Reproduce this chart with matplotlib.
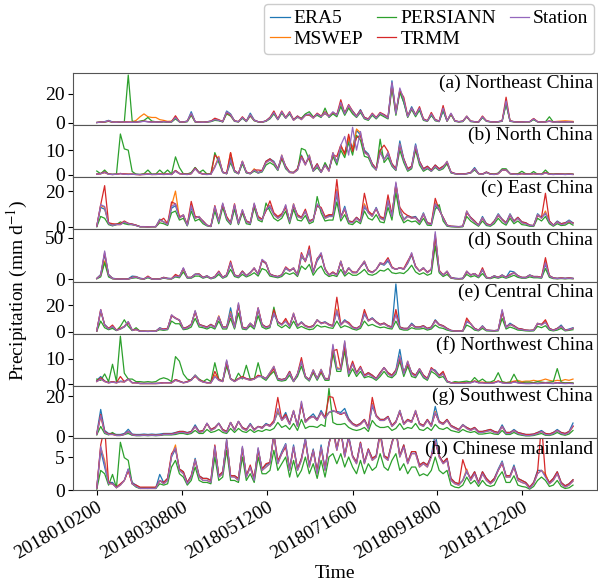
import numpy as np
import pandas as pd
import matplotlib
matplotlib.use("Agg")
import matplotlib.pyplot as plt
import matplotlib.dates as mdates

# Regional mean daily precipitation (mm/d), sampled every third day of 2018
start_date = "2018-01-02"
n_steps = 122
step_days = 3

products = ["ERA5", "MSWEP", "PERSIANN", "TRMM", "Station"]
colors = ["#1f77b4", "#ff7f0e", "#2ca02c", "#d62728", "#9467bd"]
titles = ["(a) Northeast China", "(b) North China", "(c) East China", "(d) South China",
          "(e) Central China", "(f) Northwest China", "(g) Southwest China", "(h) Chinese mainland"]
tick_dates = ["2018-01-02", "2018-03-08", "2018-05-12", "2018-07-16", "2018-09-18", "2018-11-22"]
ytick_sets = [[0, 20], [0, 10], [0, 20], [0, 50], [0, 20], [0, 10], [0, 20], [0, 5]]

# (a) Northeast China
ne_era5 = [0, 0.4, 0.6, 1.5, 0.4, 0.3, 0.6, 0.4, 0.3, 0.2, 0.4, 0.6, 0.9, 0.6, 0.4, 0.5, 0.3, 0.7, 0.4, 0.6,
           3, 0.6, 0.4, 1, 7.5, 0.6, 0.4, 0.3, 0.5, 1, 1.8, 1.5, 0.6, 8, 6, 1.2, 0.6, 3, 1, 6.5,
           1.8, 0.6, 0.4, 1.2, 3.5, 6.5, 2.5, 7, 3.5, 6, 2, 4.5, 2.5, 5.5, 5, 3.5, 5.5, 4.5, 6, 4.5,
           6.5, 5.5, 12, 7, 11, 8, 4.5, 9, 3.5, 2.5, 5.5, 3.5, 6, 5.5, 3.5, 29, 6.5, 22, 14, 4.5,
           11, 5.5, 9, 2.5, 1.2, 5, 2, 1, 8, 1.2, 6, 1.2, 0.6, 1, 4, 1, 0.6, 0.4, 3.5, 1.2,
           0.6, 0.4, 0.6, 1.2, 13, 1.2, 0.6, 0.4, 0.4, 0.6, 0.6, 2.2, 0.6, 0.4, 0.5, 1, 0.4, 0.6, 0.4, 0.5, 0.6, 0.4]
ne_mswep = [0, 0.3, 0.5, 1, 0.3, 0.2, 0.4, 0.3, 0.2, 0.3, 1.5, 4, 6, 4, 3.5, 3.5, 2, 1.5, 0.8, 1,
            3.8, 0.6, 0.3, 0.8, 6, 0.5, 0.3, 0.2, 0.4, 0.8, 2.2, 1.5, 0.5, 7, 5.5, 1, 0.5, 3.5, 0.8, 5.5,
            1.5, 0.5, 0.3, 1, 3, 7, 2, 7, 3, 6.5, 1.5, 4, 2, 5, 5.5, 3, 5.5, 4, 6.5, 4,
            7, 5, 13, 6, 11, 7, 4, 8, 3, 2, 5.5, 3, 6, 5, 3, 26, 6, 23, 16, 4,
            9.5, 5, 10, 2, 1, 6, 1.5, 0.8, 10, 1, 6, 1, 0.5, 0.8, 4.5, 0.8, 0.5, 0.3, 4, 1,
            0.5, 0.3, 0.5, 1, 14, 1, 0.5, 0.3, 0.3, 0.5, 0.6, 2.5, 0.6, 0.4, 0.5, 0.8, 0.5, 0.8, 1, 1.2, 1, 0.8]
ne_persiann = [0, 0.2, 0.3, 0.8, 0.2, 0.1, 0.3, 0.5, 33, 1, 0.3, 1, 1.5, 3.5, 1, 0.5, 0.3, 0.4, 0.2, 0.3,
               2.5, 0.4, 0.2, 0.5, 5, 0.3, 0.2, 0.1, 0.3, 0.6, 1.5, 1.2, 0.4, 6, 4.5, 0.8, 0.4, 3, 0.6, 4.5,
               1.2, 0.4, 0.2, 0.8, 2.5, 6, 2, 6.5, 3, 6, 2, 3.5, 3, 6, 7.5, 4, 5, 3.5, 10, 3.5,
               6, 4, 11, 5, 10, 6, 3.5, 7, 2.5, 1.5, 5, 2.5, 5.5, 4, 2.5, 24, 5, 21, 14, 3.5,
               9, 4, 8.5, 1.5, 0.8, 5, 1.2, 0.6, 8.5, 0.8, 5.5, 0.8, 0.4, 0.6, 4, 0.6, 0.4, 0.2, 3.5, 0.8,
               0.4, 0.2, 0.4, 0.8, 13, 0.8, 0.4, 0.2, 0.2, 0.4, 0.4, 2, 0.4, 0.2, 0.5, 4, 0.3, 0.4, 0.2, 0.3, 0.4, 0.2]
ne_trmm = [0, 0.3, 0.4, 1, 0.3, 0.2, 0.5, 0.4, 0.3, 0.2, 0.3, 0.6, 1, 0.6, 0.4, 0.5, 0.3, 0.8, 0.4, 0.6,
           4.7, 0.6, 0.3, 1, 6, 0.6, 0.3, 0.2, 0.5, 1, 3, 2, 0.6, 7, 5, 1.2, 0.6, 4, 1, 5,
           1.5, 0.6, 0.3, 1.2, 3.5, 8, 2.5, 8, 3.5, 7.5, 2, 4.5, 2.5, 5, 5.5, 3.5, 6.5, 4.5, 7.5, 4.5,
           7, 5.5, 15.8, 6.5, 12.5, 8, 4.5, 8.5, 3.5, 2.5, 6.5, 3.5, 7, 5.5, 3.5, 27, 7, 22, 17.6, 4.5,
           10, 5.5, 11, 2.5, 1.2, 7, 2, 1, 11.8, 1.2, 6, 1.2, 0.6, 1, 4, 1, 0.6, 0.4, 4.5, 1.2,
           0.6, 0.4, 0.6, 1.2, 17.6, 1.2, 0.6, 0.4, 0.4, 0.6, 0.6, 2.8, 0.6, 0.4, 0.5, 1, 0.5, 0.6, 0.4, 0.5, 0.6, 0.4]
ne_station = [0, 0.3, 0.5, 1.2, 0.3, 0.2, 0.5, 0.3, 0.2, 0.1, 0.3, 0.5, 0.8, 0.5, 0.3, 0.4, 0.2, 0.6, 0.3, 0.5,
              3.5, 0.5, 0.3, 0.8, 6.5, 0.5, 0.3, 0.2, 0.4, 0.8, 2, 1.5, 0.5, 7.5, 5.5, 1, 0.5, 3.5, 0.8, 5.5,
              1.5, 0.5, 0.3, 1, 3, 7, 2, 7.5, 3, 7, 1.5, 4, 2, 5, 6, 3, 6, 4, 7, 4,
              7.5, 5, 14, 6, 12, 7.5, 4, 8, 3, 2, 6, 3, 6.5, 5, 3, 28, 6, 24, 16, 4,
              10, 5, 10, 2, 1, 6, 1.5, 0.8, 10, 1, 6.5, 1, 0.5, 0.8, 4.5, 0.8, 0.5, 0.3, 4, 1,
              0.5, 0.3, 0.5, 1, 15, 1, 0.5, 0.3, 0.3, 0.5, 0.5, 2.5, 0.5, 0.3, 0.4, 0.8, 0.3, 0.5, 0.3, 0.4, 0.5, 0.3]

# (b) North China
n_era5 = [0.4, 0.6, 1.2, 0.4, 0.3, 0.4, 0.6, 0.4, 0.3, 0.4, 0.3, 0.2, 0.3, 0.4, 0.3, 0.3, 0.4, 0.3, 0.4, 0.3,
          1.8, 0.6, 0.4, 0.3, 0.6, 3, 1, 0.4, 0.3, 0.4, 3.5, 6.5, 1.2, 0.6, 7, 1.8, 0.6, 5, 1.2, 0.6,
          2.2, 1, 1.8, 5.5, 6.5, 5.5, 2.5, 7.5, 3.5, 1.2, 1, 2.5, 8, 4.5, 7.5, 2, 4.5, 1.2, 4.5, 2,
          8.5, 5.5, 11, 9, 14, 11, 18, 16, 10, 8.5, 4.5, 2.5, 10, 6.5, 8, 4.5, 2.5, 13.7, 6.5, 2.5,
          3.5, 12.5, 5.5, 2.5, 3.5, 2, 4, 2.5, 3.5, 5, 1.2, 0.6, 0.4, 0.4, 0.6, 1, 3, 0.6, 0.4, 1.2,
          0.4, 0.3, 0.6, 2.2, 2.2, 0.6, 0.4, 0.3, 0.6, 0.4, 0.4, 0.6, 0.4, 0.3, 1, 0.4, 0.3, 0.4, 0.4, 0.3, 0.4, 0.3]
n_mswep = [0.3, 0.5, 0.9, 0.3, 0.2, 0.3, 0.6, 0.4, 0.3, 0.3, 0.2, 0.1, 0.2, 0.3, 0.2, 0.2, 0.3, 0.2, 0.3, 0.2,
           1.6, 0.5, 0.3, 0.2, 0.5, 2.6, 0.8, 0.3, 0.2, 0.3, 3.5, 7.5, 1, 0.5, 9, 1.5, 0.5, 5.5, 1, 0.5,
           2.5, 0.8, 1.5, 5, 6, 5, 2, 8, 3, 1, 0.8, 2, 7.5, 4, 8, 1.5, 4, 1, 4, 1.5,
           9, 5, 12, 8, 15, 10, 18.5, 17, 9, 8, 4, 2, 9.5, 6, 9, 4, 2, 12.5, 6, 2,
           3, 11.5, 5, 2, 3, 1.5, 3.5, 2, 3, 5.5, 1, 0.5, 0.3, 0.3, 0.5, 0.8, 2.5, 0.5, 0.3, 1,
           0.3, 0.2, 0.5, 2, 2, 0.5, 0.3, 0.2, 0.5, 0.3, 0.3, 0.5, 0.3, 0.2, 0.8, 0.3, 0.2, 0.3, 0.3, 0.2, 0.3, 0.2]
n_persiann = [1.6, 0.5, 2, 0.3, 0.2, 0.3, 16.5, 10.5, 10, 1.4, 0.3, 0.2, 0.5, 2, 0.3, 0.4, 2, 0.5, 2, 0.4,
              7.3, 3, 0.5, 0.4, 1, 3, 1, 2, 0.4, 0.5, 9, 5, 1, 0.5, 5, 1.2, 0.5, 4.5, 0.8, 0.5,
              1.5, 0.8, 1.2, 4, 5, 4, 1.8, 6.5, 2.5, 1, 1, 2, 10.7, 10, 6, 1.5, 3, 1, 5, 2,
              7.5, 4, 10, 7, 13, 8, 16, 14, 7.5, 7, 3.5, 2, 14.4, 5, 7, 3.5, 1.8, 10, 5, 1.5,
              2.5, 10, 4, 1.5, 2.5, 1.5, 3, 1.8, 2.5, 4.5, 0.8, 0.5, 0.3, 0.3, 0.5, 0.8, 2, 0.5, 0.3, 1,
              0.5, 0.3, 0.8, 2.5, 2.5, 0.5, 0.3, 0.5, 1.5, 0.5, 0.3, 1.4, 0.3, 0.3, 2, 0.4, 0.3, 0.5, 0.3, 0.3, 0.4, 0.3]
n_trmm = [0.3, 0.6, 1.2, 0.4, 0.2, 0.3, 0.6, 0.4, 0.3, 0.3, 0.2, 0.2, 0.3, 0.4, 0.2, 0.3, 0.4, 0.3, 0.4, 0.2,
          1.8, 0.6, 0.4, 0.3, 0.6, 2.8, 1, 0.4, 0.3, 0.4, 8, 6.5, 1.2, 0.6, 9, 1.8, 0.6, 5.5, 1.2, 0.6,
          2, 2, 1.8, 5.5, 6.5, 5, 2.5, 7, 3.5, 1.2, 1, 2.5, 7.5, 4.5, 7, 2, 4.5, 1.2, 4, 2,
          8, 7.5, 12, 8.5, 16.4, 9.5, 15, 16, 9.5, 8, 4.5, 2.5, 10, 12, 9.5, 4.5, 2.5, 12, 6.5, 2.5,
          3.5, 11, 5.5, 2.5, 3.5, 2, 4, 2.5, 3.5, 5, 1.2, 0.6, 0.4, 0.4, 0.6, 1, 2.5, 0.6, 0.4, 1.2,
          0.4, 0.3, 0.6, 2, 2, 0.6, 0.4, 0.3, 0.6, 0.4, 0.4, 0.6, 0.4, 0.3, 1, 0.4, 0.3, 0.4, 0.4, 0.3, 0.4, 0.3]
n_station = [0.3, 0.5, 1, 0.3, 0.2, 0.3, 0.5, 0.3, 0.2, 0.3, 0.2, 0.1, 0.2, 0.3, 0.2, 0.2, 0.3, 0.2, 0.3, 0.2,
             1.5, 0.5, 0.3, 0.2, 0.5, 2.5, 0.8, 0.3, 0.2, 0.3, 3, 7, 1, 0.5, 6, 1.5, 0.5, 5.5, 1, 0.5,
             2, 0.8, 1.5, 5, 6, 5, 2, 8, 3, 1, 0.8, 2, 7, 4, 8, 1.5, 4, 1, 4, 1.5,
             9, 5, 12, 15.5, 8, 19.2, 10, 17.5, 9, 8, 4, 2, 9, 6, 9, 4, 2, 12.5, 6, 2,
             3, 12, 5, 2, 3, 1.5, 3.5, 2, 3, 5.5, 1, 0.5, 0.3, 0.3, 0.5, 0.8, 2.5, 0.5, 0.3, 1,
             0.3, 0.2, 0.5, 2, 2, 0.5, 0.3, 0.2, 0.5, 0.3, 0.3, 0.5, 0.3, 0.2, 0.8, 0.3, 0.2, 0.3, 0.3, 0.2, 0.3, 0.2]

# (c) East China
e_era5 = [0.6, 11, 10, 2.5, 1.2, 1.8, 1.8, 2.5, 2.2, 1.8, 1.2, 0.4, 0.4, 0.3, 0.4, 0.4, 4.5, 3, 1.8, 10.5,
          12, 5.5, 6.5, 1.2, 11, 5.5, 5.5, 3.5, 1.2, 0.6, 10.5, 3.5, 12.5, 5.5, 2.5, 11.5, 2.5, 9, 3.5, 2.5,
          12.5, 5.5, 4.5, 9.5, 11, 7.5, 5.5, 7, 11.5, 3.5, 12, 6.5, 5.5, 8.5, 3.5, 4.5, 12, 10, 5.5, 6.5,
          6.5, 18, 5.5, 11.6, 3.5, 3, 5.5, 3.5, 11, 8.5, 6.5, 11, 5.5, 4.5, 14, 6.5, 23, 10, 4.5, 6.5,
          5.5, 6, 3, 8, 2.5, 2, 12, 9.5, 5.5, 1.2, 0.6, 0.5, 0.4, 0.6, 8.5, 5.5, 3.5, 1.2, 6, 2,
          1.2, 3.5, 7.5, 4.5, 2.5, 7.5, 3.5, 5.5, 3, 2.5, 1.2, 1, 7.5, 5.5, 7.5, 3.5, 1.2, 3.5, 2, 2.5, 4, 2.5]
e_mswep = [0.5, 12, 11, 2, 1, 1.5, 1.5, 3, 2, 1.5, 1, 0.3, 0.3, 0.2, 0.3, 0.3, 4, 3, 1.5, 12,
           20, 5, 7, 1, 12.5, 5, 6, 3, 1, 0.5, 11, 3, 13, 5, 2, 12, 2, 9.5, 3, 2,
           13, 5, 4, 10, 12, 7, 5, 6.5, 12, 3, 13, 6, 5, 9, 3, 4, 12.5, 10, 5, 6,
           6, 21, 5, 10, 3, 2.5, 5, 3, 13, 8, 6, 10.5, 5, 4, 15.5, 6, 24, 10, 4, 6,
           5, 5.4, 2.5, 7.5, 2, 1.5, 13.5, 10, 5, 1, 0.5, 0.4, 0.3, 0.5, 9, 5, 3, 1, 5.4, 1.5,
           1, 3, 7, 4, 2, 7, 3, 5, 2.5, 2, 1, 0.8, 7, 5, 9, 3, 1, 3, 1.5, 2, 3.5, 2]
e_persiann = [0.3, 6, 5, 1.5, 0.8, 1.5, 3, 2, 1.5, 1.5, 1, 0.3, 0.3, 0.2, 0.3, 0.3, 2.5, 2, 1, 8,
              9, 4, 5, 0.8, 9, 3.5, 4.5, 2, 0.8, 0.4, 9, 2, 11, 4, 1.5, 10, 1.5, 8, 2, 1.5,
              11, 4, 3, 13.4, 9, 5, 3.5, 5, 9, 2, 10, 4, 3.5, 6.5, 2, 3, 17, 8, 3.5, 4,
              4, 14, 3.5, 7, 2, 1.5, 3.5, 2, 9, 5, 4, 7, 3, 2.5, 11, 4, 19, 7, 2.5, 4,
              3, 3.5, 1.5, 5, 1.2, 1, 10, 12.5, 3.5, 0.6, 0.3, 0.2, 0.2, 0.3, 6, 3.5, 2, 0.6, 3.5, 1,
              0.6, 2, 5, 2.5, 1.2, 5, 2, 3.5, 1.5, 1.2, 0.6, 0.5, 5, 3.5, 6, 2, 0.6, 2, 1, 1.2, 2.5, 1.2]
e_trmm = [0.6, 12.5, 23, 2.5, 2, 1.8, 2, 3.5, 2.2, 1.8, 1.2, 0.4, 0.4, 0.3, 0.4, 0.4, 3.5, 5, 2, 14,
          13, 6, 6.5, 1.5, 14.3, 6, 5.5, 3.5, 1.2, 0.6, 12, 3.5, 12.5, 6, 2.5, 13, 2.5, 9, 3.5, 2.5,
          12.5, 6, 4.5, 9, 14.6, 8, 6, 7.5, 11, 3.5, 12, 7, 5.5, 10, 3.5, 4.5, 12, 11, 6, 7,
          7, 26.4, 6, 10, 3.5, 3, 5.5, 3.5, 18.8, 9, 7, 10, 6, 5, 17.9, 7, 24, 11, 8, 6.5,
          5.5, 5.5, 3, 7, 2.5, 2, 16, 9.5, 5.5, 1.2, 0.6, 0.5, 0.4, 0.6, 8, 5.5, 3.5, 1.2, 5, 2,
          1.2, 3.5, 6.5, 4.5, 2.5, 6.5, 3.5, 5.5, 3, 2.5, 1.2, 1, 6.5, 5.5, 18.8, 3.5, 1.2, 3, 2, 2.5, 3, 2.5]
e_station = [0.5, 12.5, 11.5, 2, 1, 1.5, 1.5, 3, 2, 1.5, 1, 0.3, 0.3, 0.2, 0.3, 0.3, 4, 3, 1.5, 11.5,
             13, 5, 7, 1, 12, 5, 6, 3, 1, 0.5, 11.5, 3, 13.4, 5, 2, 12.5, 2, 9.8, 3, 2,
             13.4, 5, 4, 10, 12, 7, 5, 6.5, 12.5, 3, 12.9, 6, 5, 9, 3, 4, 13, 10, 5, 6,
             6, 20, 5, 10.7, 3, 2.5, 5, 3, 12, 8, 6, 10.7, 5, 4, 15, 6, 25, 10, 4, 6,
             5, 5.4, 2.5, 7.5, 2, 1.5, 13, 10, 5, 1, 0.5, 0.4, 0.3, 0.5, 9, 5, 3, 1, 5.4, 1.5,
             1, 3, 7, 4, 2, 7, 3, 5, 2.5, 2, 1, 0.8, 7, 5, 8, 3, 1, 3, 1.5, 2, 3.5, 2]

# (d) South China
s_era5 = [1.2, 6, 30, 6, 1.5, 0.8, 0.8, 0.5, 0.8, 4, 3.5, 1.5, 0.8, 3, 0.8, 0.5, 0.8, 2.5, 1.5, 1,
          4.5, 3.5, 13, 2.5, 2.5, 6.5, 6.5, 2.5, 4.5, 1.5, 3.5, 9, 2.5, 5.5, 18, 5.5, 3.5, 10, 4.5, 8.5,
          13, 6.5, 22, 19, 6.5, 4.5, 3.5, 5.5, 13, 10, 13, 5.5, 27, 22, 33, 9, 22, 29, 12, 5.5,
          8.5, 5.5, 21, 6.5, 14, 8.5, 8.5, 15, 20, 10.5, 8.5, 12, 19, 17, 22, 14, 12, 14, 12, 19,
          29, 15, 10, 14, 8.5, 12, 50, 10, 5.5, 9, 2.5, 1.5, 1, 1.5, 9, 5.5, 7, 3.5, 11, 2.5,
          2, 4.5, 2.5, 5.5, 2.5, 10, 9, 4.5, 2.5, 2.5, 5.5, 3.5, 3.5, 2.5, 18, 4.5, 2, 1.5, 2, 1.5, 2, 1.5]
s_mswep = [1, 5, 22, 5, 1, 0.5, 0.5, 0.3, 0.5, 2, 3, 1, 0.5, 3, 0.5, 0.3, 0.5, 2, 1, 0.8,
           4, 3, 13, 2, 2, 6, 6, 2, 4, 1, 3, 9, 2, 5, 20, 5, 3, 9, 4, 8,
           14, 6, 23, 20, 6, 4, 3, 5, 14, 10, 14, 5, 29, 22, 36, 8, 24, 31, 12, 5,
           8, 5, 22, 6, 14, 8, 8, 15, 22, 10, 8, 12, 20, 18, 25, 14, 12, 14, 12, 20,
           31, 15, 10, 14, 8, 12, 54, 10, 5, 10, 2, 1, 0.8, 1, 10, 5, 7, 3, 12, 2,
           1.5, 4, 2, 5, 2, 5, 8, 4, 2, 2, 5, 3, 3, 2, 21, 4, 1.5, 1, 1.5, 1, 1.5, 1]
s_persiann = [0.8, 3, 20, 3, 0.8, 0.4, 0.4, 0.3, 0.4, 1.5, 2, 0.8, 0.4, 2, 0.4, 0.3, 0.4, 1.5, 0.8, 0.6,
              3, 2, 9, 1.5, 1.5, 4, 4, 1.5, 3, 0.8, 2, 6, 1.5, 3.5, 12, 3.5, 2, 6, 3, 5,
              8, 4, 13, 11, 4, 3, 2, 3.5, 8, 6, 8, 3.5, 16, 12, 18, 5, 12, 16, 7, 3.5,
              5, 3.5, 12, 4, 8, 5, 5, 8, 12, 6, 5, 7, 11, 10, 13, 8, 7, 8, 7, 11,
              17, 9, 6, 8, 5, 7, 40, 8, 3.5, 6, 1.5, 0.8, 0.6, 0.8, 6, 3, 4.5, 2, 7, 1.5,
              1, 2.5, 1.5, 3, 1.5, 3, 5, 2.5, 1.5, 1.5, 3, 2, 2, 1.5, 13, 2.5, 1, 0.8, 1, 0.8, 1, 0.8]
s_trmm = [1.2, 5, 32, 5.5, 1.2, 0.6, 0.6, 0.4, 0.6, 2.5, 3, 1.2, 0.6, 4, 0.6, 0.4, 0.6, 2.5, 1.2, 1,
          6, 3.5, 13, 2.5, 2.5, 6, 6.5, 2.5, 4, 1.2, 3.5, 10, 2.5, 5.5, 22, 5.5, 3.5, 10, 4.5, 8,
          13, 6.5, 23, 19, 6.5, 4.5, 3.5, 5.5, 15, 11, 13, 5.5, 32, 21, 40, 9, 25, 30, 13, 5.5,
          9, 5.5, 21, 6.5, 13, 9, 8.5, 15, 21, 11, 8.5, 12, 19, 19, 26, 15, 12, 14, 13, 22,
          30, 16, 10, 13, 9, 12, 52, 11, 5.5, 9, 2, 1.2, 1, 1.2, 9, 5.5, 7, 3.5, 14, 2.5,
          1.8, 4, 2.5, 5, 2.5, 6, 8, 4.5, 2.5, 2.5, 5, 3.5, 3.5, 2.5, 26, 4.5, 1.8, 1.2, 1.8, 1.2, 1.8, 1.2]
s_station = [1, 5, 34, 5, 1, 0.5, 0.5, 0.3, 0.5, 2, 3, 1, 0.5, 3, 0.5, 0.3, 0.5, 2, 1, 0.8,
             4, 3, 14, 2, 2, 6, 6, 2, 4, 1, 3, 9, 2, 5, 20, 5, 3, 9, 4, 8,
             14, 6, 24, 20, 6, 4, 3, 5, 14, 10, 14, 5, 30, 22, 36, 8, 24, 32, 12, 5,
             8, 5, 22, 6, 14, 8, 8, 15, 22, 10, 8, 12, 20, 18, 24, 14, 12, 14, 12, 20,
             32, 15, 10, 14, 8, 12, 57, 10, 5, 10, 2, 1, 0.8, 1, 10, 5, 7, 3, 12, 2,
             1.5, 4, 2, 5, 2, 5, 8, 4, 2, 2, 5, 3, 3, 2, 20, 4, 1.5, 1, 1.5, 1, 1.5, 1]

# (e) Central China
c_era5 = [0.6, 15, 5.5, 2.5, 3.5, 1.2, 2, 3.5, 7, 1.2, 1.8, 0.4, 0.4, 0.3, 0.4, 0.4, 3, 1.8, 2.5, 12,
          10, 8.5, 2.5, 3.5, 5.5, 15, 5.5, 4.5, 3.5, 5.5, 3.5, 11, 3.5, 3.5, 18, 3.5, 20, 3.5, 2.5, 6.4,
          3.5, 16, 5.5, 3.5, 4.5, 13, 7.5, 5.5, 8, 4.5, 13, 4.5, 7.5, 4.5, 3.5, 4.5, 9, 6.5, 7.5, 5.5,
          4.5, 15, 5.5, 9, 6.5, 3.5, 2.5, 4.5, 13, 8.5, 10.5, 7.5, 5.5, 6.5, 4.5, 3.5, 36, 3.5, 2.5, 2.5,
          6.4, 3.5, 3.5, 4.5, 2.5, 3.5, 9, 5.5, 4.5, 2.5, 1, 0.6, 0.5, 0.6, 7.5, 6, 2.5, 1.2, 4.5, 1.2,
          1, 0.8, 1.2, 15, 3.5, 6.4, 4.5, 2.5, 2, 1.2, 1, 1.2, 6, 5.5, 7.5, 2.5, 1.2, 2.5, 5, 1.2, 2, 3]
c_mswep = [0.5, 16, 5, 2, 4, 1, 2, 4, 7.5, 1, 1.5, 0.3, 0.3, 0.2, 0.3, 0.3, 2.5, 1.5, 2, 12.5,
           10, 9, 2, 3, 5, 15.5, 5, 4, 3, 5, 3, 12, 3, 3, 15, 3, 21, 3, 2, 6.4,
           3, 17.5, 5, 3, 4, 14.5, 7, 5, 8.5, 4, 14, 4, 7, 4, 3, 4, 9, 6, 7, 5,
           4, 17, 5, 8, 6, 3, 2, 4, 14.5, 8, 10, 7, 5, 6, 4, 3, 14, 3, 2, 2,
           5.5, 3, 3, 4, 2, 3, 8, 5, 4, 2, 0.8, 0.5, 0.4, 0.5, 8.5, 6, 2, 1, 4, 1,
           0.8, 0.6, 1, 16, 3, 5.5, 4, 2, 1.5, 1, 0.8, 1, 6.4, 5, 7.5, 2, 1, 2, 4, 1, 1.5, 2.5]
c_persiann = [0.3, 8, 3, 1.5, 2.5, 0.8, 4, 9, 4, 0.8, 3, 0.3, 0.3, 0.2, 0.3, 0.3, 1.5, 1, 1.5, 8,
              6, 6, 1.5, 2, 3.5, 10, 3.5, 3, 2, 3.5, 2, 8, 2, 2, 10, 2, 14, 2, 1.5, 4.5,
              2, 12, 3.5, 2, 3, 18.5, 5, 3, 5, 2.5, 8, 2.5, 4, 2.5, 1.5, 2, 5, 3.5, 4, 3,
              2.5, 8, 3, 4.5, 3.5, 2, 1.2, 2.5, 8, 4.5, 5.5, 4, 3, 3.5, 2.5, 2, 8, 2, 1.2, 1.2,
              3, 2, 2, 2.5, 1.2, 2, 5, 3, 2.5, 1.2, 0.5, 0.3, 0.3, 0.3, 5, 3.5, 1.2, 0.6, 2.5, 0.6,
              0.5, 0.4, 0.6, 10, 2, 3.5, 2.5, 1.2, 1, 0.6, 0.5, 0.6, 4, 3, 4.5, 1.2, 0.6, 1.2, 2.5, 0.6, 1, 1.5]
c_trmm = [0.6, 16.7, 5, 2.5, 5, 1.2, 2.5, 4, 7, 1.2, 1.8, 0.4, 0.4, 0.3, 0.4, 0.4, 2.5, 2, 2.5, 12,
          10.5, 8.5, 2.5, 3.5, 5.5, 15, 5.5, 4.5, 3.5, 5.5, 3.5, 11, 3.5, 3.5, 13, 3.5, 20, 3.5, 2.5, 6,
          3.5, 18, 5.5, 3.5, 4.5, 16.5, 7.5, 5.5, 10, 4.5, 13, 4.5, 7, 4.5, 3.5, 4.5, 8.5, 6.5, 7, 5.5,
          4.5, 26, 5.5, 8, 7, 3.5, 2.5, 4.5, 16.7, 8.5, 10, 7.5, 5.5, 6.5, 4.5, 3.5, 16.7, 3.5, 2.5, 2.5,
          5.5, 3.5, 3.5, 4.5, 2.5, 3.5, 8.5, 5.5, 4.5, 2.5, 1, 0.6, 0.5, 0.6, 10.3, 6, 2.5, 1.2, 4, 1.2,
          1, 0.8, 1.2, 15, 3.5, 5.5, 4.5, 2.5, 2, 1.2, 1, 1.2, 6, 5.5, 9, 2.5, 1.2, 2.5, 4, 1.2, 1.5, 2.5]
c_station = [0.5, 16.7, 5, 2, 4, 1, 2, 4, 7.7, 1, 1.5, 0.3, 0.3, 0.2, 0.3, 0.3, 2.5, 1.5, 2, 12.8,
             10, 9, 2, 3, 5, 16, 5, 4, 3, 5, 3, 11.5, 3, 3, 14, 3, 21.8, 3, 2, 6.4,
             3, 18, 5, 3, 4, 14, 7, 5, 8, 4, 14, 4, 7, 4, 3, 4, 9, 6, 7, 5,
             4, 16, 5, 8, 6, 3, 2, 4, 14, 8, 10, 7, 5, 6, 4, 3, 12.8, 3, 2, 2,
             5.5, 3, 3, 4, 2, 3, 8, 5, 4, 2, 0.8, 0.5, 0.4, 0.5, 8, 6, 2, 1, 4, 1,
             0.8, 0.6, 1, 16.7, 3, 5.5, 4, 2, 1.5, 1, 0.8, 1, 6.4, 5, 7, 2, 1, 2, 4, 1, 1.5, 2.5]

# (f) Northwest China
nw_era5 = [1.5, 3, 1.2, 0.6, 1, 0.6, 1.2, 1, 2, 0.6, 0.6, 0.3, 0.3, 0.3, 0.3, 0.3, 0.4, 0.6, 0.6, 0.6,
           1.8, 1.2, 0.6, 1, 1.8, 3.5, 1.8, 1, 0.6, 0.6, 3, 1.8, 1.2, 9, 2.2, 1.2, 2.2, 2.5, 2.2, 1.8,
           2.2, 3, 3, 2.2, 4.5, 6.5, 2.2, 1.8, 2.2, 5, 1.2, 4, 8.5, 3, 1.8, 5.5, 2.2, 5.5, 2.2, 2.2,
           14, 6, 6, 16, 4.5, 8, 4.5, 6.5, 3.5, 4.5, 3.5, 2.2, 4.5, 6.5, 4.5, 3.5, 5.5, 13.6, 4.5, 8.5,
           4.5, 3.5, 6, 3.5, 2.2, 6, 5.5, 3.5, 4.5, 1.2, 0.6, 0.4, 0.4, 0.4, 0.6, 0.6, 1.2, 0.6, 0.6, 0.4,
           0.4, 0.6, 1.2, 0.6, 0.4, 0.4, 1, 0.6, 0.4, 0.3, 0.3, 0.4, 0.3, 0.4, 0.6, 0.4, 0.3, 0.6, 0.4, 0.3, 0.4, 0.3]
nw_mswep = [1, 2, 1, 0.5, 0.8, 0.5, 1, 0.8, 2, 0.5, 0.5, 0.2, 0.2, 0.2, 0.2, 0.2, 0.3, 0.5, 0.5, 0.5,
            1.5, 1, 0.5, 0.8, 1.5, 3.5, 1.5, 0.8, 0.5, 0.5, 3.5, 1.5, 1, 9, 2, 1, 2, 2.5, 2, 1.5,
            2, 3, 3, 2, 4.5, 7, 2, 1.5, 2, 4.5, 1, 4, 9, 3, 1.5, 5.6, 2, 5.8, 2, 2,
            15, 6.5, 6, 16.5, 4, 8, 4, 6.5, 3, 4, 3, 2, 4, 6.5, 4, 3, 5, 11, 4, 9,
            4, 3, 6, 3, 2, 6, 5, 3, 4, 1, 0.5, 0.5, 0.6, 0.5, 0.8, 0.8, 1.2, 0.8, 0.8, 0.6,
            0.6, 0.8, 1.2, 0.8, 0.6, 0.8, 1.2, 1.5, 1, 1.2, 1.2, 1.5, 1.2, 1.5, 2, 1.5, 1.2, 1.5, 1.3, 1.8, 1.5, 2]
nw_persiann = [2, 1.5, 4, 1, 7.8, 1, 18.8, 4.3, 2, 2, 1, 1, 0.8, 1, 0.8, 1, 2, 2.5, 2, 1,
               10.8, 9, 4, 2, 1.5, 3.5, 2, 1, 2, 1, 8.4, 2, 1.2, 7, 2, 1.2, 4.3, 2, 7.4, 2,
               2, 8.4, 2.5, 1.5, 3.5, 5, 1.5, 1.2, 1.5, 3.5, 1, 3, 7, 2.5, 1.2, 4.5, 1.5, 4.5, 1.5, 1.5,
               12, 5, 5, 13, 3, 6, 3, 5, 2.5, 3, 2.5, 1.5, 3, 5, 3, 2.5, 4, 9, 3, 7,
               3, 2.5, 5, 2.5, 1.5, 5, 4, 2.5, 3, 0.8, 0.5, 1, 0.8, 1, 1.2, 0.8, 2.6, 1, 2, 0.8,
               0.8, 1.5, 4.5, 1, 0.6, 0.8, 3.9, 1, 0.6, 0.8, 0.8, 0.6, 1, 0.8, 0.6, 0.8, 1, 6.1, 0.8, 0.5, 0.6, 0.5]
nw_trmm = [1.2, 2.5, 1.2, 0.6, 1, 0.6, 3, 1, 2, 0.6, 0.6, 0.3, 0.3, 0.3, 0.3, 0.3, 0.4, 0.6, 0.6, 0.6,
           1.8, 1.2, 0.6, 1, 1.8, 3, 1.8, 1, 0.6, 0.6, 5, 1.8, 1.2, 8.5, 2.2, 1.2, 2.2, 3, 2.2, 1.8,
           2.2, 3.5, 3, 2.2, 4, 6, 2.2, 1.8, 2.2, 5, 1.2, 4, 10.4, 3, 1.8, 5, 2.2, 5, 2.2, 2.2,
           13, 13.6, 6, 15, 4.5, 9, 4.5, 7, 3.5, 4.5, 3.5, 2.2, 4.5, 6.5, 4.5, 3.5, 5.5, 10, 4.5, 8,
           4.5, 3.5, 6, 3.5, 2.2, 6.5, 5, 3.5, 5, 1.2, 0.6, 0.4, 0.4, 0.4, 0.6, 0.6, 1.2, 0.6, 0.6, 0.4,
           0.4, 0.6, 1.2, 0.6, 0.4, 0.4, 1, 0.6, 0.4, 0.3, 0.3, 0.4, 0.3, 0.4, 0.6, 0.4, 0.3, 0.6, 0.4, 0.3, 0.4, 0.3]
nw_station = [1, 2, 1, 0.5, 0.8, 0.5, 1, 0.8, 2, 0.5, 0.5, 0.2, 0.2, 0.2, 0.2, 0.2, 0.3, 0.5, 0.5, 0.5,
              1.5, 1, 0.5, 0.8, 1.5, 3.5, 1.5, 0.8, 0.5, 0.5, 3, 1.5, 1, 9.5, 2, 1, 2, 2.5, 2, 1.5,
              2, 3, 3, 2, 4.5, 7, 2, 1.5, 2, 4.5, 1, 4, 9, 3, 1.5, 5.6, 2, 5.8, 2, 2,
              15.6, 6, 6, 17, 4, 8, 4, 6.5, 3, 4, 3, 2, 4, 6.5, 4, 3, 5, 11, 4, 9,
              4, 3, 6, 3, 2, 6, 5, 3, 4, 1, 0.5, 0.3, 0.3, 0.3, 0.5, 0.5, 1, 0.5, 0.5, 0.3,
              0.3, 0.5, 1, 0.5, 0.3, 0.3, 0.8, 0.5, 0.3, 0.2, 0.2, 0.3, 0.2, 0.3, 0.5, 0.3, 0.2, 0.5, 0.3, 0.2, 0.3, 0.2]

# (g) Southwest China
sw_era5 = [1.5, 13.5, 3, 1.5, 1.5, 1, 1, 1.5, 3.6, 1.2, 1, 1, 1.2, 1, 1.2, 1, 1.2, 1.5, 1.5, 1.5,
           2, 2.5, 2.5, 2, 2.5, 5.8, 2.5, 3, 6.5, 3.5, 4.5, 6.7, 3.5, 2.5, 7, 3.5, 7.5, 4.5, 3.5, 6.5,
           3.5, 5, 4.5, 6.5, 5.5, 7, 12, 8.5, 12, 6.5, 12.5, 5.5, 16, 7.5, 9.5, 11.3, 8.5, 13, 9.5, 12,
           12.5, 12.5, 12, 14, 9, 6.5, 5.5, 6.5, 8.5, 4.5, 15, 10.5, 8.5, 8.5, 10, 5.5, 7.5, 13, 6.5, 8.5,
           7.5, 12.5, 6.5, 5.5, 8.5, 5.5, 15, 7.5, 6.5, 8.5, 5.5, 4.5, 3.5, 6, 4.5, 3.5, 4.5, 2.5, 2.5, 3,
           3.5, 2.5, 2, 5.8, 2, 2, 3.5, 2, 1.5, 1, 1, 1.2, 2, 3, 1.5, 1.2, 2, 3.5, 2, 1.5, 2.5, 6.7]
sw_mswep = [1, 10, 2, 1, 1, 0.5, 0.5, 1, 2.5, 0.8, 0.5, 0.5, 0.6, 0.5, 0.6, 0.5, 0.6, 1, 1, 1,
            1.5, 2, 2, 1.5, 2, 5, 2, 2.5, 6.5, 3, 4, 6.5, 3, 2, 7, 3, 7.5, 4, 3, 6,
            3, 5, 4, 6, 5, 7, 13, 8, 10, 6, 13, 5, 17, 7, 9, 10, 8, 12, 9, 12,
            13, 12, 11, 12, 8, 6, 5, 6, 8, 4, 16.5, 10, 8, 8, 9.5, 5, 7, 13, 6, 8,
            7, 13, 6, 5, 8, 5, 12.5, 7, 6, 8, 5, 4, 3, 5.8, 4, 3, 4, 2, 2, 2.5,
            3, 2, 1.5, 5, 1.5, 1.5, 3, 1.5, 1, 0.5, 0.5, 0.8, 1.5, 2.5, 1, 0.8, 1.5, 3, 1.5, 1, 2, 5]
sw_persiann = [0.8, 5, 1.5, 0.8, 2, 0.5, 0.5, 1, 1.5, 0.6, 0.4, 0.4, 0.5, 0.4, 0.5, 0.4, 0.5, 0.8, 0.8, 0.8,
               1, 1.5, 1.5, 1, 1.5, 3, 1.5, 1.5, 3.5, 2, 2.5, 3.5, 2, 1.5, 4, 2, 4, 2.5, 2, 3.5,
               2, 3, 2.5, 3.5, 3, 4, 7, 4.5, 5.5, 3.5, 6.5, 3, 8.5, 4, 5, 5, 4.5, 6, 5, 24,
               7, 6, 6, 6.5, 4.5, 3.5, 3, 3.5, 4.5, 2.5, 8, 5.5, 4.5, 4.5, 5, 3, 4, 6.5, 3.5, 4.5,
               4, 6.5, 3.5, 3, 4.5, 3, 6, 4, 3.5, 4.5, 3, 2.5, 2, 3.5, 2.5, 2, 2.5, 1.2, 1.2, 1.5,
               1.8, 1.2, 1, 3, 1, 1, 2, 1, 0.6, 0.3, 0.3, 0.5, 1, 1.5, 0.6, 0.5, 1, 2, 1, 0.6, 1.2, 3]
sw_trmm = [1.2, 11, 2.5, 1.2, 1.2, 0.6, 0.6, 1.2, 2.5, 1, 0.6, 0.6, 0.7, 0.6, 0.7, 0.6, 0.7, 1.2, 1.2, 1.2,
           1.8, 2.5, 2.5, 1.8, 2.5, 5, 2.5, 3, 6.5, 3.5, 4.5, 6.5, 3.5, 2.5, 7, 3.5, 7.5, 4.5, 3.5, 6,
           3.5, 5, 4.5, 6, 5.5, 8, 19.5, 8.5, 11, 6.5, 12.5, 5.5, 16, 7.5, 9.5, 10, 8.5, 12, 9.5, 20,
           19.5, 12, 11, 12, 8.5, 6.5, 5.5, 6.5, 8.5, 4.5, 19.5, 10.5, 8.5, 8.5, 10, 5.5, 7.5, 12, 6.5, 8.5,
           7.5, 12, 6.5, 5.5, 8.5, 5.5, 11.5, 7.5, 6.5, 8.5, 5.5, 4.5, 3.5, 5.5, 4.5, 3.5, 4.5, 2.5, 2.5, 3,
           3.5, 2.5, 2, 5, 2, 2, 3, 2, 1.5, 1, 1, 1.2, 2, 2.5, 1.5, 1.2, 2, 3, 2, 1.5, 2.5, 5]
sw_station = [1, 10.4, 2, 1, 1, 0.5, 0.5, 1, 2.5, 0.8, 0.5, 0.5, 0.6, 0.5, 0.6, 0.5, 0.6, 1, 1, 1,
              1.5, 2, 2, 1.5, 2, 5, 2, 2.5, 6.7, 3, 4, 6.5, 3, 2, 7, 3, 7.6, 4, 3, 6,
              3, 4.9, 4, 6, 5, 7, 14, 8, 10, 6, 13, 5, 17.6, 7, 9, 10, 8, 12, 9, 12,
              13, 12, 11.3, 12, 8, 6, 5, 6, 8, 4, 16, 10, 8, 8, 9.5, 5, 7, 13, 6, 8,
              7, 13, 6, 5, 8, 5, 12, 7, 6, 8, 5, 4, 3, 5.8, 4, 3, 4, 2, 2, 2.5,
              3, 2, 1.5, 5, 1.5, 1.5, 3, 1.5, 1, 0.5, 0.5, 0.8, 1.5, 2.5, 1, 0.8, 1.5, 3, 1.5, 1, 2, 5.5]

# (h) Chinese mainland
cn_era5 = [0.4, 6, 3.5, 1.2, 1.2, 0.5, 0.9, 1.5, 3.2, 1.2, 0.8, 0.4, 0.4, 0.4, 0.4, 0.4, 2.4, 1.2, 1.8, 5,
           6.2, 3.2, 2.8, 1.2, 2.2, 4.8, 2.2, 1.8, 1.8, 1.5, 6.4, 2.2, 2.8, 7.5, 2.2, 2.2, 1.8, 6.4, 2.2, 3.5,
           1.8, 6.2, 3.2, 3.8, 4.2, 8.2, 4.2, 5.8, 7, 3.2, 6.8, 3.2, 4.8, 7.8, 3.8, 6.2, 2.8, 6.8, 3.2, 7.2,
           9, 6.2, 9, 5.2, 8.2, 5.2, 4.2, 7.2, 4.2, 6.2, 4.8, 5.2, 8.8, 5.2, 4.8, 7.2, 9, 5.2, 6.8, 4.2,
           5.8, 5.8, 3.8, 4.2, 3.8, 5.2, 8.5, 5.2, 4.2, 4.8, 1.8, 1.2, 1, 1.5, 2.8, 1.8, 2.8, 1.2, 2.8, 1.8,
           1.2, 1.8, 3.2, 4.4, 2.2, 2.2, 3.8, 1.8, 1.5, 1.2, 0.5, 1.2, 3, 3, 2.2, 1.2, 1.8, 2.8, 1.2, 0.7, 1, 1.6]
cn_mswep = [0.3, 6.4, 4.5, 1, 1, 0.4, 0.8, 1.5, 3, 1, 0.6, 0.3, 0.3, 0.3, 0.3, 0.3, 1.5, 1, 1.5, 5.2,
            6.8, 3, 2.5, 1, 2, 4.6, 2, 1.5, 1.5, 1.2, 6.6, 2, 2.5, 7.5, 2.2, 2, 1.5, 6.4, 2, 3.5,
            1.5, 6.2, 3, 3.5, 4, 8.2, 4, 5.5, 6.8, 3, 6.5, 3, 4.5, 7.5, 3.5, 6, 2.5, 6.4, 3, 7,
            8.8, 6, 8.8, 5, 7.8, 5, 4, 7, 4, 6, 4.5, 5, 8.2, 5, 4.5, 7, 8.8, 5, 6.5, 4,
            5.5, 5.5, 3.5, 4, 3.5, 5, 7.5, 5, 4, 4.5, 1.5, 1, 0.8, 1.5, 3.2, 1.5, 2.5, 1, 2.5, 1.5,
            1, 1.5, 3, 4.2, 2, 2, 3.5, 1.5, 1.2, 1, 0.3, 1, 2.5, 3, 2.5, 1, 1.5, 2.5, 1, 0.5, 0.8, 1.4]
cn_persiann = [0.2, 3, 2.5, 0.8, 2.4, 0.4, 7.2, 4.9, 4.5, 1, 0.5, 0.3, 0.4, 0.3, 0.4, 0.3, 1, 0.8, 1, 3.5,
               4.5, 2.5, 2, 0.8, 1.5, 3.5, 1.5, 1.2, 1.2, 1, 5, 1.5, 2, 6, 1.5, 1.5, 1.2, 5, 1.5, 2.5,
               1.2, 5, 2.5, 2.5, 3, 6, 3, 4, 5, 2, 4.5, 2, 3, 5, 2.5, 4, 1.8, 4.5, 2, 5,
               5.5, 4, 5.5, 3.5, 5, 3.5, 2.5, 4.5, 2.5, 4, 3, 3.5, 5.5, 3.5, 3, 4.5, 5.5, 3, 4, 2.5,
               3.5, 3.5, 2.2, 2.5, 2.2, 3, 5, 3, 2.5, 3, 0.8, 0.5, 0.4, 0.8, 2, 1, 1.5, 0.6, 1.5, 0.8,
               0.6, 0.8, 2, 2.8, 1.2, 1.2, 2.2, 0.8, 0.6, 0.5, 0.2, 0.6, 1.5, 2, 1.5, 0.6, 0.8, 1.5, 0.6, 0.3, 0.4, 0.8]
cn_trmm = [0.3, 6.8, 9.5, 1.2, 1, 0.5, 1, 1.5, 3, 1, 0.8, 0.5, 0.5, 0.5, 0.5, 0.5, 1.5, 1.2, 1.8, 5.5,
           6.2, 3.2, 2.8, 1.2, 2.2, 4.5, 2.2, 1.8, 1.8, 1.5, 6.8, 2.2, 2.8, 7.2, 2.2, 2.2, 1.8, 6.2, 2.2, 3.8,
           1.8, 6, 3.2, 4, 4.2, 8.5, 4.5, 5.5, 6.5, 3.2, 6.4, 3.2, 4.8, 7.5, 3.8, 6, 3, 6.4, 3.2, 7,
           9.5, 6.2, 9, 5.2, 8, 5.2, 4.2, 7.2, 4.2, 6.2, 4.8, 5.2, 8.8, 5.2, 4.8, 7.2, 9.2, 5.2, 6.8, 4.2,
           5.8, 5.8, 3.8, 4.2, 3.8, 5.2, 7.2, 5.2, 4.2, 4.8, 1.8, 1.2, 1, 4.6, 2.8, 1.8, 2.8, 1.2, 2.8, 1.8,
           1.2, 1.8, 3, 4, 2.2, 2.2, 3.5, 1.8, 1.5, 1.2, 0.5, 1.2, 2.8, 10, 2.2, 1.2, 1.8, 2.8, 1.2, 0.7, 1, 1.6]
cn_station = [0.3, 6.6, 4, 1, 1, 0.4, 0.8, 1.5, 3.2, 1, 0.6, 0.3, 0.3, 0.3, 0.3, 0.3, 1.5, 1, 1.5, 5.2,
              6.4, 3, 2.5, 1, 2, 4.6, 2, 1.5, 1.5, 1.2, 6.6, 2, 2.5, 7.7, 2, 2, 1.5, 6.6, 2, 3.5,
              1.5, 6.4, 3, 3.5, 4, 8.5, 4, 5.5, 6.9, 3, 6.6, 3, 4.5, 7.7, 3.5, 6, 2.5, 6.5, 3, 7,
              9, 6, 9, 5, 8, 5, 4, 7, 4, 6, 4.5, 5, 8.5, 5, 4.5, 7, 9, 5, 6.5, 4,
              5.5, 5.5, 3.5, 4, 3.5, 5, 7.5, 5, 4, 4.5, 1.5, 1, 0.8, 1.5, 3, 1.5, 2.5, 1, 2.5, 1.5,
              1, 1.5, 3, 4.2, 2, 2, 3.5, 1.5, 1.2, 1, 0.3, 1, 2.5, 3, 2, 1, 1.5, 2.5, 1, 0.5, 0.8, 1.4]

regions = [
    [ne_era5, ne_mswep, ne_persiann, ne_trmm, ne_station],
    [n_era5, n_mswep, n_persiann, n_trmm, n_station],
    [e_era5, e_mswep, e_persiann, e_trmm, e_station],
    [s_era5, s_mswep, s_persiann, s_trmm, s_station],
    [c_era5, c_mswep, c_persiann, c_trmm, c_station],
    [nw_era5, nw_mswep, nw_persiann, nw_trmm, nw_station],
    [sw_era5, sw_mswep, sw_persiann, sw_trmm, sw_station],
    [cn_era5, cn_mswep, cn_persiann, cn_trmm, cn_station],
]

plt.rcParams["font.family"] = ["Liberation Serif", "DejaVu Serif"]
plt.rcParams["font.size"] = 14
plt.rcParams["mathtext.fontset"] = "stix"

dates = pd.date_range(start_date, periods=n_steps, freq=f"{step_days}D")

fig, axes = plt.subplots(8, 1, figsize=(5.98, 5.86), dpi=100, sharex=True)
fig.subplots_adjust(left=0.122, right=0.998, top=0.876, bottom=0.163, hspace=0)

for i, ax in enumerate(axes):
    for series, name, col in zip(regions[i], products, colors):
        ax.plot(dates, series, color=col, lw=0.9, label=name)
    ax.set_yticks(ytick_sets[i])
    ax.text(0.993, 0.96, titles[i], transform=ax.transAxes, ha="right", va="top", fontsize=14)
    ax.tick_params(axis="both", labelsize=14, length=3.5, pad=2.5)
    for sp in ax.spines.values():
        sp.set_color("#555555")

axes[-1].set_ylim(0, 7.8)
axes[-1].set_xticks(pd.to_datetime(tick_dates))
axes[-1].xaxis.set_major_formatter(mdates.DateFormatter("%Y%m%d%H"))
plt.setp(axes[-1].get_xticklabels(), rotation=30, ha="right", rotation_mode="anchor")
axes[-1].set_xlabel("Time", fontsize=14, labelpad=2)

fig.text(0.03, 0.505, "Precipitation (mm d$^{-1}$)", rotation=90, va="center", ha="center", fontsize=14)

handles, labels = axes[0].get_legend_handles_labels()
fig.legend(handles, labels, loc="upper right", bbox_to_anchor=(1.0, 1.0), ncol=3,
           handlelength=1.0, handletextpad=0.2, columnspacing=0.7, fontsize=14,
           borderpad=0.3, labelspacing=0.15, borderaxespad=0.2, fancybox=True,
           framealpha=1, edgecolor="#cccccc")

fig.savefig("out.png", dpi=100)
